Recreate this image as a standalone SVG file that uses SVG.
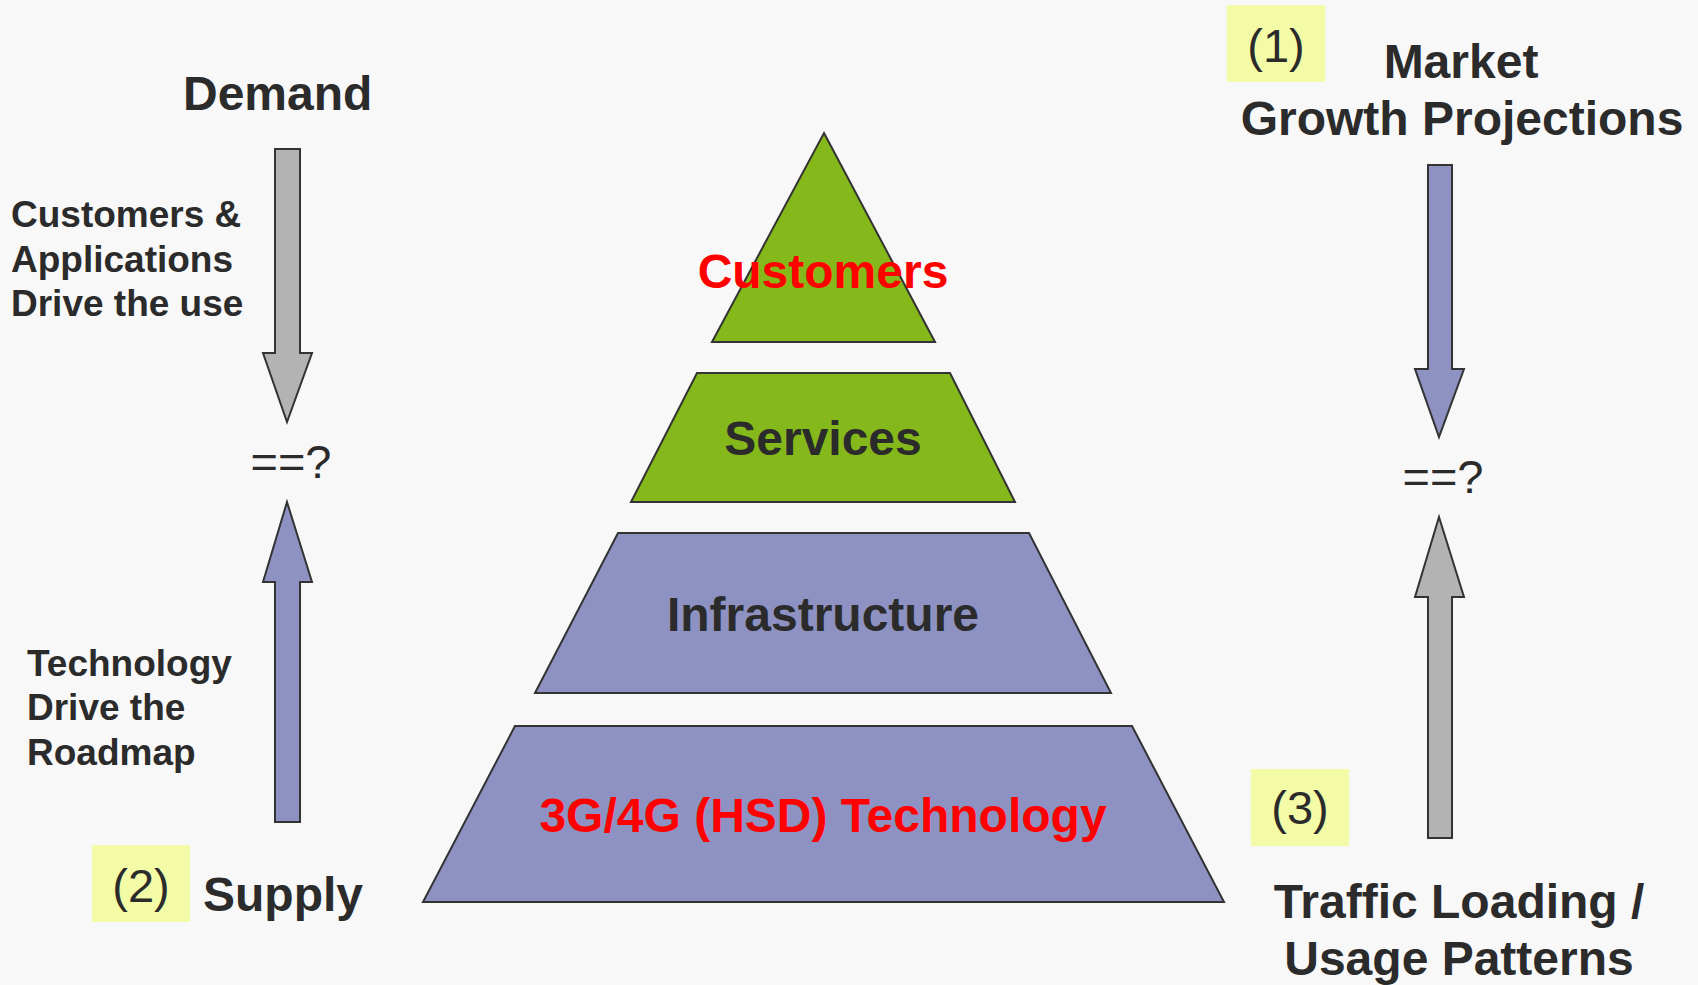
<svg xmlns="http://www.w3.org/2000/svg" width="1698" height="985" viewBox="0 0 1698 985">
  <style>
    .bg { fill: #f8f8f8; }
    .layer { stroke: #333333; stroke-width: 2; stroke-linejoin: miter; }
    .green { fill: #85b81a; }
    .blue { fill: #8d92c2; }
    .gray { fill: #b3b3b3; }
    .arrow { stroke: #333333; stroke-width: 2; }
    .tag { fill: #f3fba6; }
    .bold { font-family: "Liberation Sans", Arial, sans-serif; font-weight: bold; fill: #2b2b2b; }
    .reg { font-family: "Liberation Sans", Arial, sans-serif; fill: #2b2b2b; }
    .head { font-size: 48px; }
    .side { font-size: 37px; }
    .red { fill: #ff0000; }
    .mid { text-anchor: middle; }
  </style>

  <rect class="bg" x="0" y="0" width="1698" height="985"/>

  <!-- pyramid layers -->
  <g id="customers">
    <polygon class="layer green" points="824,133 935,342 712,342"/>
    <text class="bold head red mid" x="823" y="288">Customers</text>
  </g>
  <g id="services">
    <polygon class="layer green" points="697,373 950,373 1015,502 631,502"/>
    <text class="bold head mid" x="823" y="455">Services</text>
  </g>
  <g id="infrastructure">
    <polygon class="layer blue" points="618,533 1029,533 1111,693 535,693"/>
    <text class="bold head mid" x="823" y="631">Infrastructure</text>
  </g>
  <g id="technology">
    <polygon class="layer blue" points="515,726 1132,726 1224,902 423,902"/>
    <text class="bold head red mid" x="823" y="832">3G/4G (HSD) Technology</text>
  </g>

  <!-- block arrows -->
  <g id="connectors">
    <polygon class="arrow gray" points="275,149 300,149 300,353 312,353 287,422 263,353 275,353"/>
    <polygon class="arrow blue" points="287,502 312,582 300,582 300,822 275,822 275,582 263,582"/>
    <polygon class="arrow blue" points="1428,165 1452,165 1452,369 1464,369 1439,437 1415,369 1428,369"/>
    <polygon class="arrow gray" points="1439,517 1464,597 1452,597 1452,838 1428,838 1428,597 1415,597"/>
  </g>

  <!-- left column -->
  <g id="demand">
    <text class="bold head" x="183" y="110">Demand</text>
  </g>
  <g id="demand-note">
    <text class="bold side" x="11" y="227">Customers &amp;</text>
    <text class="bold side" x="11" y="272">Applications</text>
    <text class="bold side" x="11" y="316">Drive the use</text>
  </g>
  <g id="left-compare">
    <text class="reg mid" x="291" y="478" font-size="47">==?</text>
  </g>
  <g id="supply-note">
    <text class="bold side" x="27" y="676">Technology</text>
    <text class="bold side" x="27" y="720">Drive the</text>
    <text class="bold side" x="27" y="765">Roadmap</text>
  </g>
  <g id="tag-2">
    <rect class="tag" x="92" y="845" width="98" height="77"/>
    <text class="reg mid" x="141" y="902" font-size="47">(2)</text>
  </g>
  <g id="supply">
    <text class="bold head" x="203" y="911">Supply</text>
  </g>

  <!-- right column -->
  <g id="tag-1">
    <rect class="tag" x="1227" y="5" width="98" height="77"/>
    <text class="reg mid" x="1276" y="62" font-size="47">(1)</text>
  </g>
  <g id="market">
    <text class="bold head mid" x="1461" y="78">Market</text>
    <text class="bold head mid" x="1462" y="135">Growth Projections</text>
  </g>
  <g id="right-compare">
    <text class="reg mid" x="1443" y="493" font-size="47">==?</text>
  </g>
  <g id="tag-3">
    <rect class="tag" x="1251" y="769" width="98" height="77"/>
    <text class="reg mid" x="1300" y="824" font-size="47">(3)</text>
  </g>
  <g id="traffic">
    <text class="bold head mid" x="1459" y="918">Traffic Loading /</text>
    <text class="bold head mid" x="1459" y="975">Usage Patterns</text>
  </g>
</svg>
